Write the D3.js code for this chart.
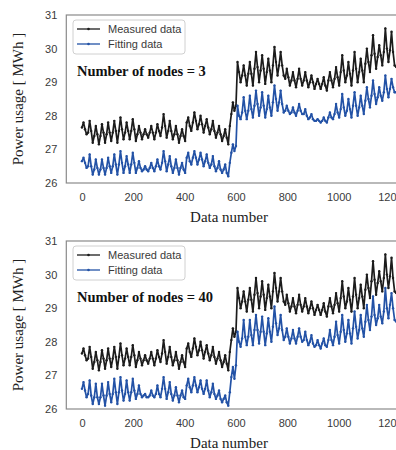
<!DOCTYPE html>
<html>
<head>
<meta charset="utf-8">
<script src="https://cdn.jsdelivr.net/npm/d3@7"></script>
<style>
  body { margin: 0; background: #fff; }
  svg { display: block; }
</style>
</head>
<body>
<svg id="chart"></svg>
<script>
// sampled every 6 data numbers (0, 6, 12, ... 1224)
const step = 6;

const measured = [
  27.65, 27.8, 27.6, 27.45,  27.5, 27.85, 27.55, 27.2,  27.4, 27.7, 27.45, 27.15,  27.4, 27.75, 27.5, 27.2,
  27.45, 27.8, 27.5, 27.25,  27.5, 27.85, 27.55, 27.2,  27.55, 27.95, 27.6, 27.3,  27.5, 27.8, 27.55, 27.3,
  27.55, 27.9, 27.6, 27.25,  27.45, 27.7, 27.5, 27.3,  27.45, 27.6, 27.45, 27.35,  27.5, 27.7, 27.5, 27.3,
  27.5, 27.75, 27.55, 27.4,  27.65, 28.05, 27.7, 27.35,  27.55, 27.85, 27.55, 27.3,  27.45, 27.7, 27.45, 27.2,
  27.4, 27.6, 27.4, 27.25,  27.8, 27.95, 27.7, 27.55,  27.8, 28.1, 27.85, 27.6,  27.75, 28.0, 27.75, 27.5,
  27.7, 27.9, 27.65, 27.45,  27.6, 27.85, 27.55, 27.35,  27.5, 27.7, 27.45, 27.25,  27.4, 27.6, 27.35, 27.15,
  27.7, 28.05, 28.4, 28.15,  28.3, 29.6, 29.3, 29.0,  29.2, 29.5, 29.2, 28.9,  29.25, 29.6, 29.25, 28.9,
  29.4, 29.9, 29.45, 29.0,  29.35, 29.8, 29.4, 28.95,  29.3, 29.7, 29.35, 29.0,  29.5, 30.05, 29.6, 29.2,
  29.5, 29.9, 29.5, 29.2,  29.1, 29.4, 29.15, 28.9,  29.05, 29.3, 29.05, 28.85,  29.1, 29.4, 29.1, 28.9,
  29.05, 29.3, 29.05, 28.85,  29.0, 29.2, 29.0, 28.8,  28.95, 29.1, 28.95, 28.8,  28.95, 29.15, 28.9, 28.75,
  29.05, 29.3, 29.05, 28.85,  29.1, 29.45, 29.15, 28.9,  29.3, 29.8, 29.35, 29.0,  29.2, 29.6, 29.25, 28.9,
  29.35, 29.9, 29.4, 29.0,  29.3, 29.7, 29.35, 29.0,  29.55, 30.0, 29.6, 29.3,  29.8, 30.4, 29.85, 29.4,
  29.75, 30.1, 29.8, 29.5,  29.9, 30.6, 30.0, 29.6,  29.95, 30.5, 29.9, 29.5,  29.45
];

const fitNodes3 = [
  26.65, 26.75, 26.6, 26.45,  26.5, 26.85, 26.5, 26.25,  26.4, 26.7, 26.45, 26.25,  26.4, 26.7, 26.45, 26.25,
  26.45, 26.75, 26.5, 26.3,  26.5, 26.85, 26.55, 26.25,  26.55, 26.95, 26.6, 26.3,  26.5, 26.8, 26.55, 26.3,
  26.55, 26.9, 26.6, 26.3,  26.45, 26.65, 26.45, 26.35,  26.4, 26.5, 26.4, 26.35,  26.45, 26.6, 26.45, 26.35,
  26.5, 26.7, 26.5, 26.4,  26.6, 26.95, 26.65, 26.35,  26.55, 26.8, 26.5, 26.3,  26.45, 26.7, 26.45, 26.25,
  26.45, 26.6, 26.4, 26.3,  26.75, 26.9, 26.65, 26.55,  26.75, 26.95, 26.75, 26.55,  26.7, 26.9, 26.7, 26.5,
  26.65, 26.85, 26.6, 26.45,  26.55, 26.8, 26.5, 26.35,  26.45, 26.65, 26.4, 26.3,  26.4, 26.55, 26.3, 26.2,
  26.6, 26.9, 27.15, 26.95,  27.1, 28.3, 28.0, 27.9,  28.1, 28.55, 28.15, 27.9,  28.15, 28.6, 28.2, 27.95,
  28.3, 28.75, 28.35, 28.0,  28.25, 28.7, 28.3, 27.95,  28.2, 28.6, 28.25, 28.0,  28.4, 28.9, 28.5, 28.15,
  28.4, 28.75, 28.35, 28.1,  28.15, 28.3, 28.15, 28.05,  28.1, 28.25, 28.1, 28.0,  28.15, 28.35, 28.15, 28.05,
  28.05, 28.2, 28.0, 27.9,  27.95, 28.05, 27.9, 27.85,  27.85, 27.9, 27.85, 27.8,  27.85, 27.95, 27.85, 27.8,
  27.95, 28.1, 27.95, 27.9,  28.05, 28.35, 28.1, 27.95,  28.2, 28.65, 28.25, 28.0,  28.15, 28.5, 28.2, 27.95,
  28.3, 28.7, 28.3, 28.0,  28.25, 28.6, 28.3, 28.05,  28.45, 28.85, 28.5, 28.25,  28.6, 29.05, 28.65, 28.35,
  28.55, 28.85, 28.6, 28.45,  28.7, 29.2, 28.8, 28.55,  28.8, 29.1, 28.85, 28.7,  28.7
];

const fitNodes40 = [
  26.6, 26.8, 26.55, 26.35,  26.45, 26.85, 26.4, 26.15,  26.35, 26.75, 26.35, 26.15,  26.35, 26.75, 26.4, 26.1,
  26.4, 26.8, 26.45, 26.2,  26.45, 26.9, 26.5, 26.15,  26.5, 26.95, 26.55, 26.25,  26.45, 26.85, 26.5, 26.25,
  26.5, 26.9, 26.55, 26.3,  26.45, 26.7, 26.45, 26.35,  26.4, 26.45, 26.35, 26.35,  26.4, 26.55, 26.4, 26.35,
  26.45, 26.7, 26.45, 26.35,  26.6, 26.95, 26.6, 26.3,  26.5, 26.8, 26.45, 26.25,  26.4, 26.65, 26.4, 26.2,
  26.4, 26.55, 26.35, 26.3,  26.7, 26.9, 26.65, 26.5,  26.7, 26.95, 26.7, 26.5,  26.65, 26.85, 26.6, 26.45,
  26.6, 26.85, 26.55, 26.35,  26.5, 26.75, 26.45, 26.3,  26.4, 26.55, 26.3, 26.2,  26.3, 26.4, 26.2, 26.1,
  26.5, 26.95, 27.25, 26.9,  27.3, 28.3, 28.0, 27.85,  28.1, 28.65, 28.15, 27.9,  28.15, 28.65, 28.2, 27.9,
  28.35, 28.8, 28.35, 27.95,  28.3, 28.75, 28.3, 27.9,  28.25, 28.7, 28.3, 28.0,  28.45, 29.05, 28.55, 28.2,
  28.4, 28.8, 28.35, 28.05,  28.15, 28.4, 28.15, 27.95,  28.1, 28.35, 28.1, 27.95,  28.15, 28.4, 28.15, 28.0,
  28.05, 28.3, 28.05, 27.9,  28.0, 28.2, 27.95, 27.85,  27.9, 28.05, 27.9, 27.8,  27.95, 28.1, 27.9, 27.85,
  28.05, 28.35, 28.05, 27.9,  28.15, 28.6, 28.2, 27.95,  28.3, 28.8, 28.35, 28.0,  28.25, 28.65, 28.25, 27.95,
  28.4, 28.9, 28.45, 28.1,  28.35, 28.8, 28.4, 28.15,  28.6, 29.1, 28.65, 28.35,  28.75, 29.35, 28.8, 28.5,
  28.7, 29.1, 28.75, 28.55,  28.9, 29.6, 29.0, 28.7,  29.1, 29.45, 29.0, 28.65,  28.6
];

const xTicks = [0, 200, 400, 600, 800, 1000, 1200];
const yTicks = [26, 27, 28, 29, 30, 31];
const panels = [
  { title: "Number of nodes = 3", fit: fitNodes3, top: 15 },
  { title: "Number of nodes = 40", fit: fitNodes40, top: 241 }
];
const seriesNames = ["Measured data", "Fitting data"];
const colors = ["#1c1c1c", "#2352a6"];

const width = 396, height = 450;
const plotH = 168;
const svg = d3.select("#chart").attr("width", width).attr("height", height);

const x = d3.scaleLinear().domain([-61, 1285]).range([66.3, 411.8]);

panels.forEach(p => {
  const y = d3.scaleLinear().domain([26, 31]).range([p.top + plotH, p.top]);
  const g = svg.append("g");

  // frame
  g.append("rect")
    .attr("x", x.range()[0]).attr("y", p.top)
    .attr("width", x.range()[1] - x.range()[0]).attr("height", plotH)
    .attr("fill", "none").attr("stroke", "#8a8a8a").attr("stroke-width", 1.2);

  // axes (labels only, no tick marks)
  const xa = g.append("g")
    .attr("transform", `translate(0,${p.top + plotH})`)
    .call(d3.axisBottom(x).tickValues(xTicks).tickSize(0).tickPadding(10).tickFormat(d3.format("d")));
  const ya = g.append("g")
    .attr("transform", `translate(${x.range()[0]},0)`)
    .call(d3.axisLeft(y).tickValues(yTicks).tickSize(0).tickPadding(9).tickFormat(d3.format("d")));
  [xa, ya].forEach(a => {
    a.select(".domain").remove();
    a.selectAll("text")
      .attr("font-family", "Liberation Sans, Arial, sans-serif")
      .attr("font-size", 11).attr("fill", "#3a3a3a");
  });

  // series
  [measured, p.fit].forEach((vals, si) => {
    const line = d3.line().x((d, i) => x(i * step)).y(d => y(d));
    g.append("path").datum(vals)
      .attr("d", line)
      .attr("fill", "none").attr("stroke", colors[si])
      .attr("stroke-width", 1.7).attr("stroke-linejoin", "round");
    g.append("g").selectAll("circle").data(vals).join("circle")
      .attr("cx", (d, i) => x(i * step)).attr("cy", d => y(d))
      .attr("r", 1.2).attr("fill", colors[si]);
  });

  // axis titles
  g.append("text")
    .attr("x", 229).attr("y", p.top + plotH + 39)
    .attr("text-anchor", "middle")
    .attr("font-family", "Liberation Serif, Times New Roman, serif")
    .attr("font-size", 15).attr("fill", "#222")
    .text("Data number");
  g.append("text")
    .attr("transform", `translate(23,${p.top + plotH / 2}) rotate(-90)`)
    .attr("text-anchor", "middle")
    .attr("font-family", "Liberation Serif, Times New Roman, serif")
    .attr("font-size", 15).attr("fill", "#222")
    .text("Power usage [ MWh ]");

  // annotation
  g.append("text")
    .attr("x", 77).attr("y", p.top + 61)
    .attr("font-family", "Liberation Serif, Times New Roman, serif")
    .attr("font-size", 14.5).attr("font-weight", "bold").attr("fill", "#111")
    .text(p.title);

  // legend
  const lg = g.append("g").attr("transform", `translate(73,${p.top + 5})`);
  lg.append("rect").attr("width", 112).attr("height", 34).attr("rx", 3)
    .attr("fill", "#fff").attr("stroke", "#d0d0d0");
  seriesNames.forEach((name, i) => {
    const ly = 9 + i * 15;
    lg.append("line").attr("x1", 4).attr("x2", 27).attr("y1", ly).attr("y2", ly)
      .attr("stroke", colors[i]).attr("stroke-width", 1.3);
    lg.append("circle").attr("cx", 15.5).attr("cy", ly).attr("r", 1.3).attr("fill", colors[i]);
    lg.append("text").attr("x", 35).attr("y", ly + 4)
      .attr("font-family", "Liberation Sans, Arial, sans-serif")
      .attr("font-size", 11).attr("fill", "#3a3a3a")
      .text(name);
  });
});
</script>
</body>
</html>
